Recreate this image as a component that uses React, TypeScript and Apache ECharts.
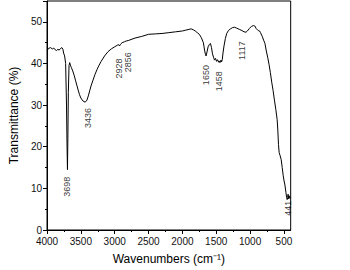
import React, { useEffect, useRef } from "react";
import * as echarts from "echarts";

const wavenumbers = [
  4000, 3980, 3950, 3920, 3900, 3880, 3860, 3840, 3820, 3800, 3780, 3765, 3755, 3740, 3725, 3712, 3704, 3698, 3692, 3685,
  3675, 3665, 3655, 3640, 3620, 3600, 3580, 3560, 3540, 3520, 3500, 3470, 3436, 3410, 3390, 3370, 3350, 3320, 3290, 3260,
  3230, 3200, 3150, 3100, 3050, 3000, 2960, 2940, 2928, 2915, 2890, 2856, 2830, 2800, 2700, 2600, 2500, 2400, 2300, 2200,
  2100, 2000, 1950, 1900, 1870, 1840, 1810, 1780, 1750, 1720, 1700, 1690, 1680, 1670, 1660, 1650, 1640, 1620, 1600, 1585,
  1570, 1555, 1540, 1525, 1510, 1495, 1480, 1465, 1458, 1445, 1430, 1420, 1410, 1400, 1385, 1365, 1345, 1320, 1290, 1260,
  1230, 1200, 1160, 1120, 1090, 1060, 1040, 1010, 980, 950, 930, 910, 880, 860, 846, 820, 800, 780, 760, 740,
  720, 700, 680, 660, 640, 620, 600, 590, 580, 570, 555, 540, 525, 510, 500, 485, 470, 460, 452, 445,
  438, 430, 420, 410, 400,
];
const transmittance = [
  43.0, 43.6, 43.8, 43.5, 43.7, 43.3, 43.1, 43.4, 43.2, 43.6, 43.8, 43.4, 42.5, 41.8, 40.0, 30.0, 20.0, 14.5, 22.0, 33.0,
  39.5, 40.2, 39.6, 39.0, 38.2, 37.2, 36.0, 34.8, 33.6, 32.5, 31.7, 31.0, 30.7, 31.2, 32.2, 33.4, 34.6, 36.0, 37.4, 38.6,
  39.6, 40.5, 41.8, 42.8, 43.5, 44.0, 44.4, 44.5, 44.2, 44.6, 45.0, 45.2, 45.4, 45.5, 46.1, 46.5, 47.0, 47.1, 47.2, 47.4,
  47.6, 47.8, 48.0, 48.2, 48.3, 48.1, 47.8, 47.4, 47.0, 46.2, 45.4, 45.0, 44.0, 43.0, 42.2, 41.8, 42.5, 44.0, 44.6, 44.8,
  43.8, 42.3, 41.5, 40.8, 41.2, 40.5, 40.9, 40.3, 40.6, 40.2, 40.8, 40.4, 41.0, 42.5, 44.2, 46.0, 47.2, 47.9, 48.3, 48.6,
  48.7, 48.5, 48.2, 47.9, 47.6, 47.5, 47.8, 48.4, 48.9, 49.1, 49.0, 48.4, 47.9, 47.8, 47.4, 46.5, 45.6, 44.8, 43.0, 41.5,
  39.8, 37.8, 35.5, 33.5, 31.2, 29.0, 26.5, 24.0, 20.5, 18.6, 17.8, 16.9, 15.0, 13.0, 12.0, 10.8, 9.0, 7.8, 7.3, 7.8,
  8.6, 7.5, 8.2, 7.6, 7.8,
];

const peakWavenumbers = [3698, 3436, 2928, 2856, 1650, 1458, 1117, 441];
const peakLabelLevels = [10.4, 26.9, 38.8, 40.3, 37.2, 35.7, 43.1, 5.2];

const majorTicks = [500, 1000, 1500, 2000, 2500, 3000, 3500, 4000];
const minorTicks = [750, 1250, 1750, 2250, 2750, 3250, 3750];

const FONT = "Liberation Sans, Arial, sans-serif";

export default function App() {
  const ref = useRef<HTMLDivElement>(null);
  useEffect(() => {
    if (!ref.current) return;
    const chart = echarts.init(ref.current, undefined, { renderer: "svg" });
    const lineData = wavenumbers.map((w, i) => [w, transmittance[i]]);
    const labelNudge: Record<number, number> = { 3436: 3, 2928: -1, 2856: 4 };
    const peakData = peakWavenumbers.map((w, i) => ({
      value: [w, peakLabelLevels[i]],
      label: { offset: [0, labelNudge[w] || 0] },
    }));
    const baseX = {
      type: "value" as const,
      min: 400,
      max: 4000,
      inverse: true,
      position: "bottom" as const,
      splitLine: { show: false },
    };
    chart.setOption({
      animation: false,
      backgroundColor: "#fff",
      grid: {
        left: 35,
        right: 1,
        top: 1,
        bottom: 39,
        show: true,
        borderColor: "#000",
        borderWidth: 1,
        containLabel: false,
      },
      xAxis: [
        {
          ...baseX,
          name: "Wavenumbers (cm\u207B\u00B9)",
          nameLocation: "middle",
          nameGap: 23,
          nameTextStyle: { fontFamily: FONT, fontSize: 12, color: "#000" },
          axisLine: { lineStyle: { color: "#000", width: 1 } },
          axisTick: { show: true, inside: false, length: 4, customValues: majorTicks, lineStyle: { color: "#000" } },
          axisLabel: {
            customValues: majorTicks,
            formatter: (v: number) => String(v),
            fontFamily: FONT,
            fontSize: 10,
            color: "#111",
            margin: 6,
          },
        },
        {
          ...baseX,
          axisLine: { show: false },
          axisTick: { show: true, inside: false, length: 2, customValues: minorTicks, lineStyle: { color: "#000" } },
          axisLabel: { show: false },
        },
      ],
      yAxis: {
        type: "value",
        min: 0,
        max: 55,
        interval: 10,
        name: "Transmittance (%)",
        nameLocation: "middle",
        nameGap: 20,
        nameTextStyle: { fontFamily: FONT, fontSize: 12, color: "#000" },
        axisLine: { show: true, lineStyle: { color: "#000", width: 1 } },
        axisTick: { show: true, inside: false, length: 4, lineStyle: { color: "#000" } },
        minorTick: { show: true, splitNumber: 2, length: 2, lineStyle: { color: "#000" } },
        axisLabel: { fontFamily: FONT, fontSize: 10, color: "#111", margin: 5, showMaxLabel: false },
        splitLine: { show: false },
      },
      series: [
        {
          type: "line",
          xAxisIndex: 0,
          data: lineData,
          showSymbol: false,
          symbol: "none",
          lineStyle: { color: "#000", width: 1 },
          silent: true,
        },
        {
          type: "scatter",
          xAxisIndex: 0,
          data: peakData,
          symbolSize: 0,
          silent: true,
          label: {
            show: true,
            position: "inside",
            rotate: 90,
            formatter: (p: any) => String(p.value[0]),
            fontFamily: FONT,
            fontSize: 9,
            color: "#000",
          },
        },
      ],
    });
    return () => chart.dispose();
  }, []);
  return <div ref={ref} style={{ width: 350, height: 270, position: "absolute", left: 0, top: 0 }} />;
}
